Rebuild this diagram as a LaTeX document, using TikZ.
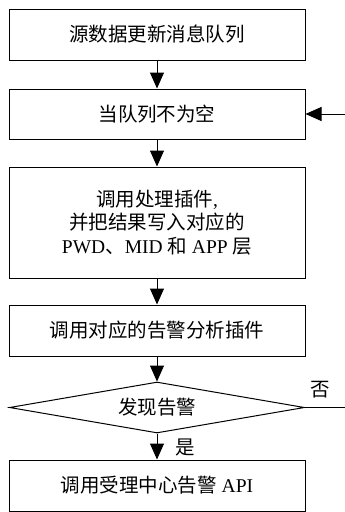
\documentclass[tikz,border=0pt]{standalone}
\usepackage{fontspec}
\setmainfont{Liberation Serif}
\newfontfamily\cjk{Noto Sans CJK SC}
\usetikzlibrary{arrows.meta,shapes.geometric}
\newcommand\lat[1]{{\rmfamily #1}}

\begin{document}
\begin{tikzpicture}[x=1pt, y=-1pt,
  box/.style={draw, line width=1pt, minimum width=296pt, inner sep=0pt, align=center,
    font=\cjk\fontsize{19.5}{23.5}\selectfont},
  arr/.style={line width=1pt, -{Triangle[length=16pt,width=14pt]}}]
\useasboundingbox (0,0) rectangle (345,512);
\node[box, minimum height=51pt] (src) at (157,34.5) {源数据更新消息队列};
\node[box, minimum height=50pt] (queue) at (157,114) {当队列不为空};
\node[box, minimum height=111pt] (plugin) at (157,222.5) {调用处理插件\lat{,}\\并把结果写入对应的\\\lat{PWD}、\lat{MID }和\lat{ APP }层};
\node[box, minimum height=51pt] (alarm) at (157,330.5) {调用对应的告警分析插件};
\node[box, shape=diamond, shape aspect=6, minimum width=295pt, minimum height=51pt] (find) at (157,407.5) {发现告警};
\node[box, minimum height=51pt] (api) at (157,485.5) {调用受理中心告警\lat{ API}};
\coordinate (back) at (345,114);
\coordinate (no) at (345,407.5);
\node[font=\cjk\fontsize{19.5}{23}\selectfont] (nolabel) at (320,390) {否};
\node[font=\cjk\fontsize{19.5}{23}\selectfont] (yeslabel) at (185,447) {是};
\draw[arr] (src) -- (queue);
\draw[arr] (queue) -- (plugin);
\draw[arr] (plugin) -- (alarm);
\draw[arr] (alarm) -- (find);
\draw[arr] (find) -- (api);
\draw[arr] (back) -- (queue.east);
\draw[line width=1pt] (find.east) -- (no);
\end{tikzpicture}
\end{document}
